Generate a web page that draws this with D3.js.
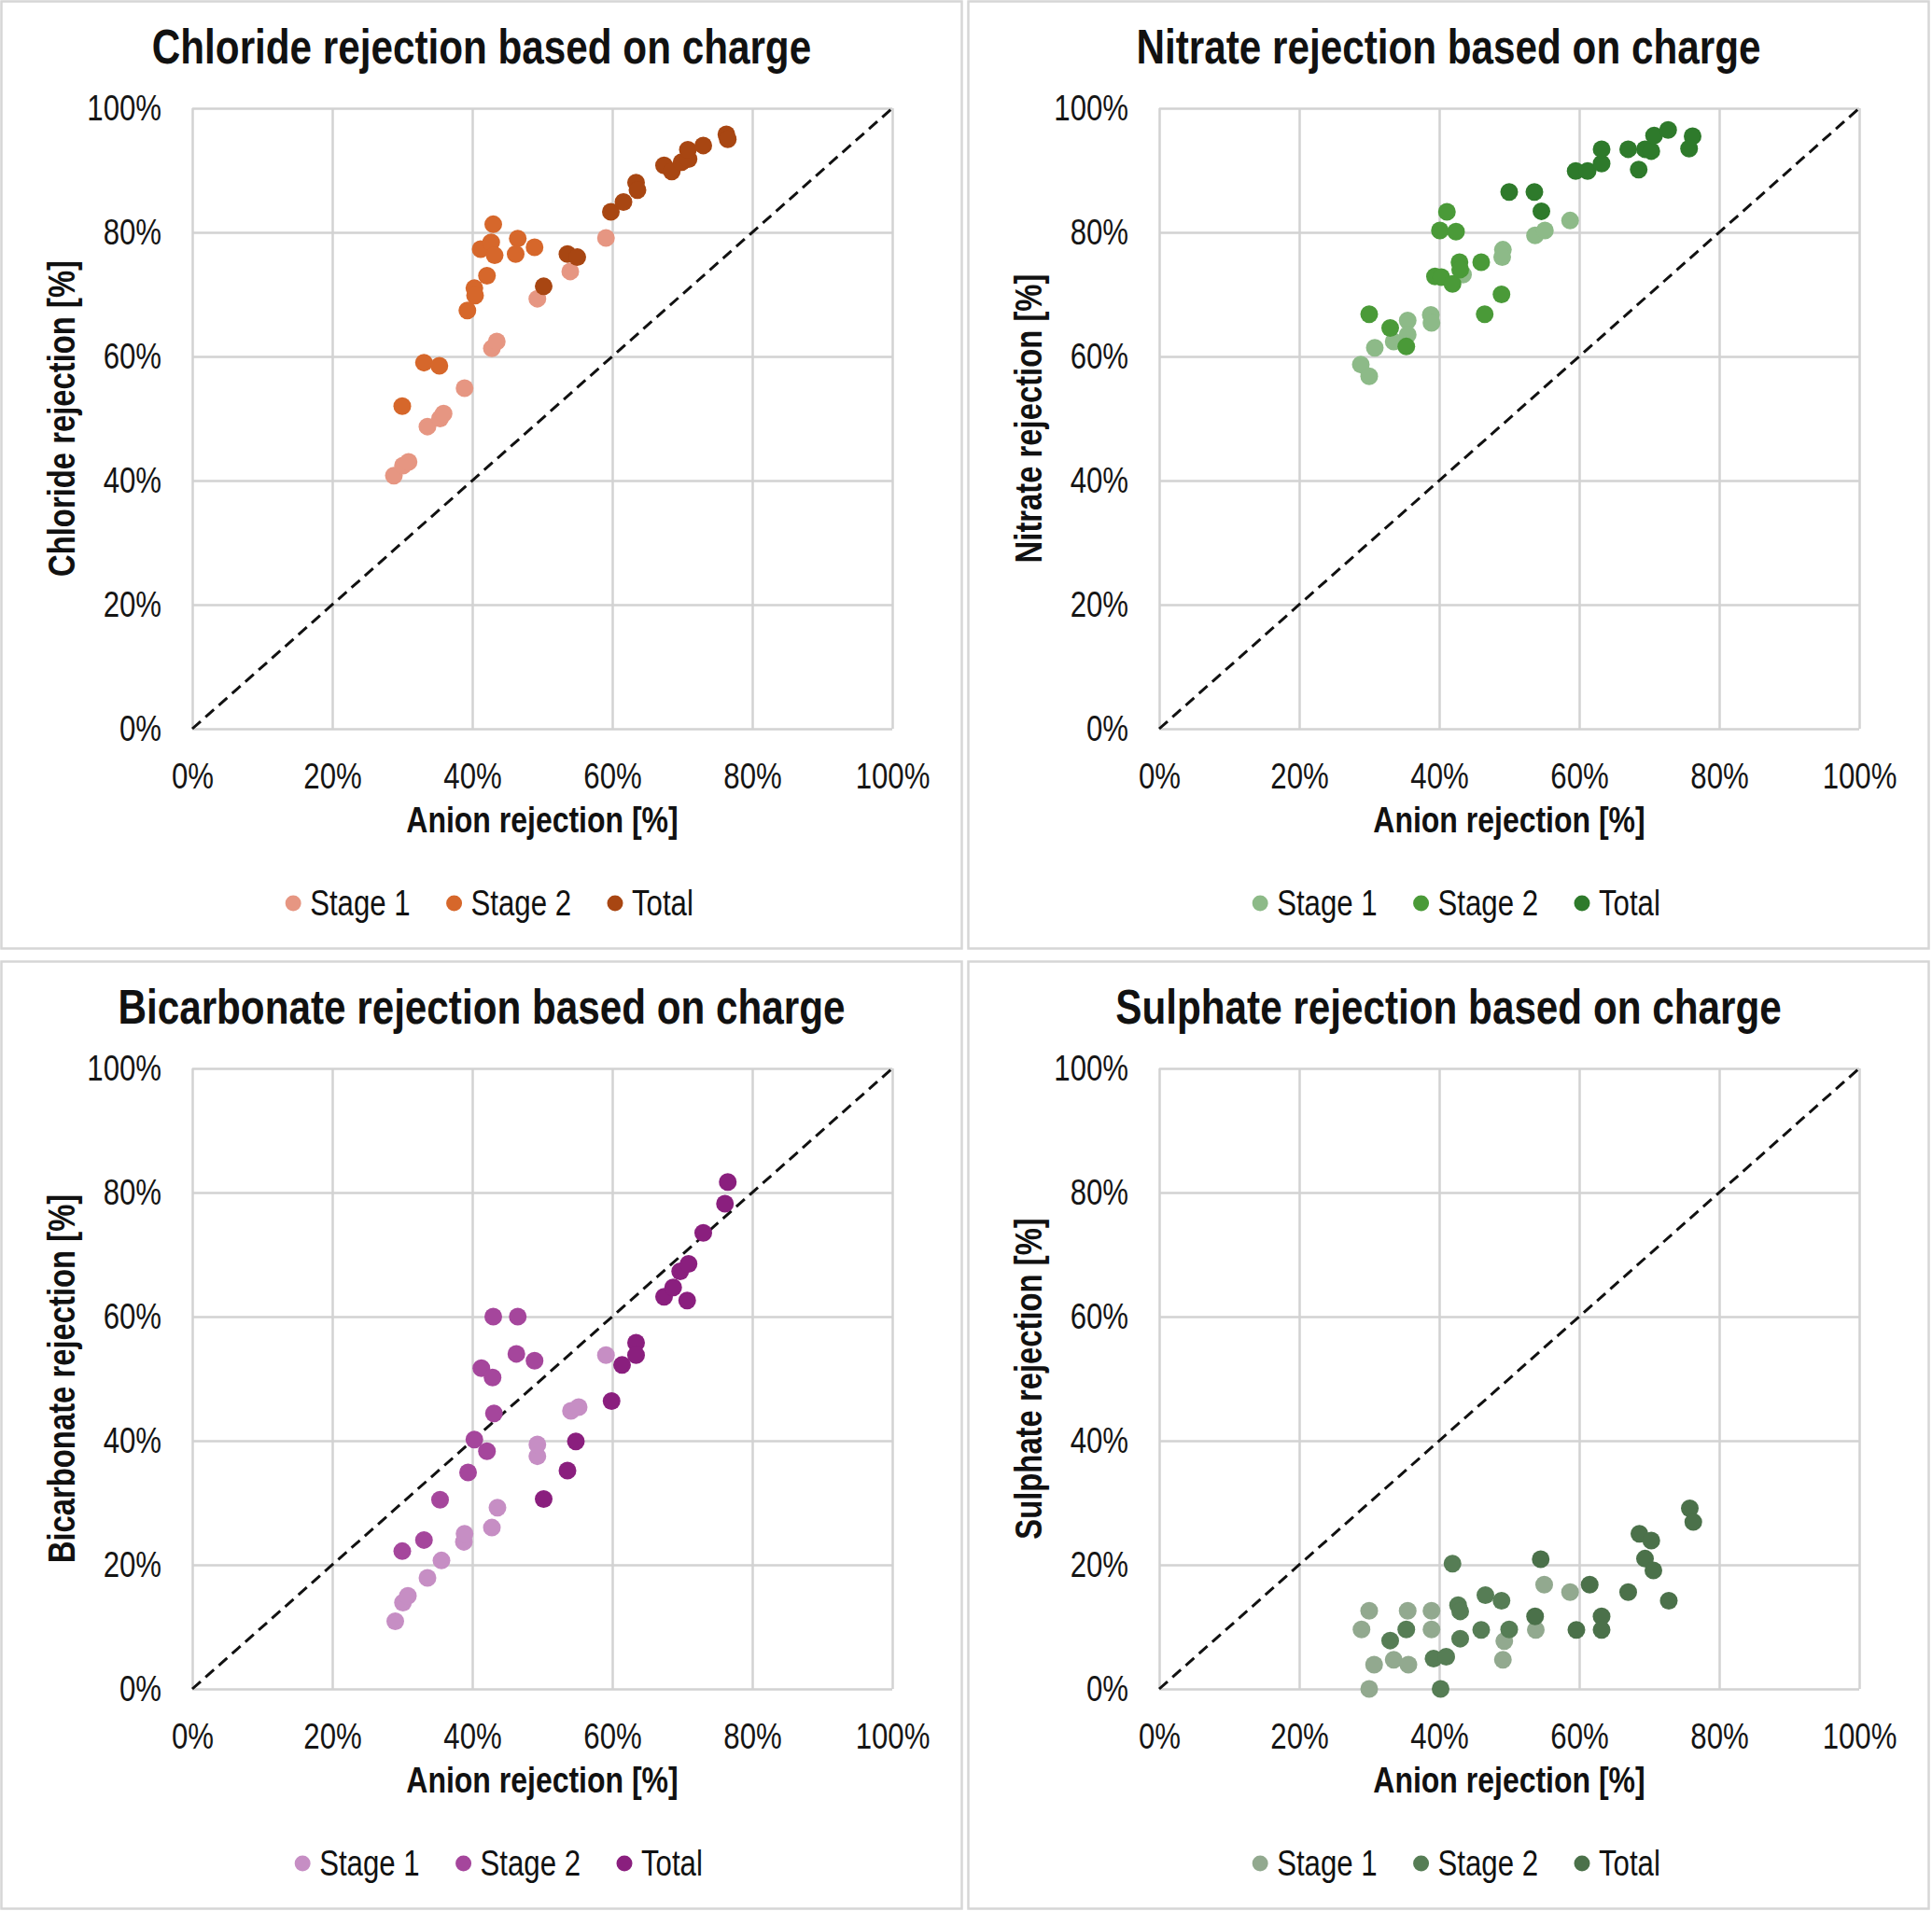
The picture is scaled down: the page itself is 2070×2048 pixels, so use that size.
<!DOCTYPE html>
<html>
<head>
<meta charset="utf-8">
<script src="https://cdn.jsdelivr.net/npm/d3@7"></script>
<style>
  body { margin: 0; background: #fff; }
  svg { display: block; }
  text { font-family: "Liberation Sans", Arial, sans-serif; fill: #111; }
</style>
</head>
<body>
<div id="chart"></div>
<script>
// values, [anion rejection %, ion rejection %]
const chlorideStage1 = [[28.8,40.8],[30.1,42.4],[30.9,43.0],[33.6,48.7],[35.4,50.0],[35.9,50.8],[38.9,54.9],[42.8,61.3],[43.5,62.4],[49.3,69.3],[54.0,73.7],[59.1,79.1]];
const chlorideStage2 = [[30.0,52.0],[33.1,59.0],[35.3,58.5],[39.3,67.4],[40.3,71.0],[40.4,69.8],[42.1,73.0],[43.0,81.3],[41.2,77.3],[42.7,78.4],[43.2,76.3],[46.5,79.0],[46.2,76.5],[48.9,77.6]];
const chlorideTotal = [[50.2,71.3],[53.6,76.5],[55.0,76.0],[59.8,83.3],[61.6,84.9],[63.4,88.0],[63.6,86.8],[67.4,90.8],[68.5,89.8],[69.9,91.3],[70.9,91.8],[70.8,93.3],[73.0,94.0],[76.3,95.8],[76.5,95.0]];

const nitrateStage1 = [[28.8,58.7],[30.0,56.8],[30.8,61.4],[33.5,62.4],[35.5,65.8],[35.5,63.5],[38.8,66.7],[38.9,65.4],[43.4,73.2],[49.1,77.2],[49.0,76.0],[53.7,79.5],[55.1,80.3],[58.7,81.9]];
const nitrateStage2 = [[30.0,66.8],[33.0,64.6],[35.3,61.6],[39.4,72.9],[40.3,72.8],[41.9,71.7],[42.9,75.2],[43.0,74.0],[46.0,75.2],[46.5,66.8],[48.9,70.0],[40.1,80.3],[42.4,80.1],[41.1,83.3]];
const nitrateTotal = [[50.0,86.5],[53.6,86.5],[54.6,83.4],[59.5,89.9],[61.2,89.9],[63.2,91.1],[63.2,93.4],[67.0,93.4],[68.5,90.1],[69.4,93.4],[70.3,93.1],[70.7,95.6],[72.7,96.5],[76.2,95.5],[75.7,93.5]];

const bicarbonateStage1 = [[29.0,10.9],[30.1,13.9],[30.8,15.0],[33.6,17.9],[35.6,20.7],[38.8,23.7],[38.9,25.0],[42.8,26.0],[43.6,29.2],[49.3,37.5],[49.3,39.4],[54.1,44.8],[55.2,45.4],[59.1,53.8]];
const bicarbonateStage2 = [[30.0,22.2],[33.1,24.0],[35.4,30.5],[39.4,34.9],[40.3,40.2],[42.1,38.3],[43.1,44.4],[41.3,51.7],[42.9,50.2],[43.0,60.0],[46.5,60.0],[46.3,54.0],[48.9,52.9]];
const bicarbonateTotal = [[50.2,30.6],[53.6,35.2],[54.8,39.9],[59.9,46.4],[61.4,52.2],[63.4,55.8],[63.4,53.8],[67.4,63.2],[68.7,64.7],[69.7,67.3],[70.9,68.5],[70.7,62.6],[73.0,73.5],[76.1,78.2],[76.5,81.7]];

const sulphateStage1 = [[30.0,0.0],[30.7,3.9],[28.9,9.6],[30.0,12.6],[33.5,4.7],[35.6,3.9],[35.5,12.6],[38.9,12.6],[38.9,9.6],[49.3,7.7],[49.1,4.7],[53.8,9.5],[55.0,16.8],[58.7,15.6]];
const sulphateStage2 = [[33.0,7.8],[35.3,9.6],[39.2,4.9],[41.0,5.2],[40.2,0.0],[41.9,20.2],[42.7,13.5],[43.0,12.5],[43.0,8.1],[46.0,9.5],[46.6,15.1],[48.9,14.2],[50.0,9.6]];
const sulphateTotal = [[53.7,11.7],[54.5,20.9],[59.6,9.5],[61.5,16.8],[63.2,11.7],[63.2,9.5],[67.0,15.6],[68.6,25.0],[70.3,23.9],[69.4,21.0],[70.6,19.1],[72.8,14.2],[75.8,29.1],[76.3,26.9]];

const seriesNames = ['Stage 1', 'Stage 2', 'Total'];
const tickValues = [0, 20, 40, 60, 80, 100];
const xTitle = 'Anion rejection [%]';

const panels = [
  { title: 'Chloride rejection based on charge', yTitle: 'Chloride rejection [%]',
    series: [chlorideStage1, chlorideStage2, chlorideTotal],
    colors: ['#e69682', '#d6672b', '#a84612'], dx: 0, dy: 0, legendShift: 0 },
  { title: 'Nitrate rejection based on charge', yTitle: 'Nitrate rejection [%]',
    series: [nitrateStage1, nitrateStage2, nitrateTotal],
    colors: ['#8dba88', '#4a9a38', '#2e7a2b'], dx: 1036, dy: 0, legendShift: 0 },
  { title: 'Bicarbonate rejection based on charge', yTitle: 'Bicarbonate rejection [%]',
    series: [bicarbonateStage1, bicarbonateStage2, bicarbonateTotal],
    colors: ['#c68ec4', '#a5469c', '#8a1f7e'], dx: 0, dy: 1029, legendShift: 10 },
  { title: 'Sulphate rejection based on charge', yTitle: 'Sulphate rejection [%]',
    series: [sulphateStage1, sulphateStage2, sulphateTotal],
    colors: ['#92a98f', '#567d55', '#4b714a'], dx: 1036, dy: 1029, legendShift: 0 }
];

const W = 2070, H = 2048;
const margin = { top: 116, left: 206 };
const plotW = 750, plotH = 665;
const squeeze = 0.82; // no narrow font installed, so squeeze Liberation Sans

// squeeze text horizontally, returns the new width
function narrow(sel) {
  let w = 0;
  sel.each(function () {
    const n = this.getComputedTextLength() * squeeze;
    d3.select(this).attr('textLength', n).attr('lengthAdjust', 'spacingAndGlyphs');
    w = n;
  });
  return w;
}

const svg = d3.select('#chart').append('svg')
  .attr('width', W)
  .attr('height', H);

svg.append('rect').attr('width', W).attr('height', H).attr('fill', '#fff');

const x = d3.scaleLinear().domain([0, 100]).range([0, plotW]);
const y = d3.scaleLinear().domain([0, 100]).range([plotH, 0]);
const fmt = d => d + '%';

panels.forEach(p => {
  const panel = svg.append('g').attr('transform', `translate(${p.dx}, ${p.dy})`);

  // frame round the chart
  panel.append('rect')
    .attr('x', 1.5).attr('y', 1.5)
    .attr('width', 1029).attr('height', 1015)
    .attr('fill', '#fff')
    .attr('stroke', '#d6d6d6')
    .attr('stroke-width', 2.5);

  panel.append('text')
    .attr('x', 516).attr('y', 68)
    .attr('text-anchor', 'middle')
    .style('font-size', '51.5px')
    .style('font-weight', 'bold')
    .text(p.title)
    .call(narrow);

  const g = panel.append('g')
    .attr('transform', `translate(${margin.left}, ${margin.top})`);

  // grid + tick labels
  g.append('g')
    .attr('class', 'y-axis')
    .call(d3.axisLeft(y).tickValues(tickValues).tickFormat(fmt).tickSize(-plotW).tickPadding(33));

  g.append('g')
    .attr('class', 'x-axis')
    .attr('transform', `translate(0, ${plotH})`)
    .call(d3.axisBottom(x).tickValues(tickValues).tickFormat(fmt).tickSize(-plotH).tickPadding(37));

  g.selectAll('.domain').remove();
  g.selectAll('.tick line')
    .style('stroke', '#d2d2d2')
    .style('stroke-width', '2.5px');
  g.selectAll('.tick text')
    .attr('font-family', null)
    .attr('font-size', null)
    .style('font-size', '38px')
    .style('fill', '#151515')
    .call(narrow);

  // 1:1 line
  g.append('line')
    .attr('x1', x(0)).attr('y1', y(0))
    .attr('x2', x(100)).attr('y2', y(100))
    .style('stroke', '#111')
    .style('stroke-width', '3px')
    .style('stroke-dasharray', '12 7');

  p.series.forEach((data, i) => {
    g.append('g')
      .selectAll('circle')
      .data(data)
      .join('circle')
      .attr('cx', d => x(d[0]))
      .attr('cy', d => y(d[1]))
      .attr('r', 9.5)
      .attr('fill', p.colors[i]);
  });

  g.append('text')
    .attr('x', plotW / 2).attr('y', plotH + 111)
    .attr('text-anchor', 'middle')
    .style('font-size', '39px')
    .style('font-weight', 'bold')
    .text(xTitle)
    .call(narrow);

  panel.append('text')
    .attr('transform', `translate(80, ${margin.top + plotH / 2}) rotate(-90)`)
    .attr('text-anchor', 'middle')
    .style('font-size', '40px')
    .style('font-weight', 'bold')
    .text(p.yTitle)
    .call(narrow);

  // legend, centred under the chart
  const legend = panel.append('g');
  let cx = 0;
  seriesNames.forEach((name, i) => {
    const item = legend.append('g').attr('transform', `translate(${cx}, 0)`);
    item.append('circle').attr('cx', 9).attr('cy', 0).attr('r', 8.5).attr('fill', p.colors[i]);
    const t = item.append('text')
      .attr('x', 27).attr('y', 13)
      .style('font-size', '38px')
      .text(name);
    cx += 27 + narrow(t) + 38;
  });
  const legendW = cx - 38;
  legend.attr('transform', `translate(${524 + p.legendShift - legendW / 2}, 968)`);
});
</script>
</body>
</html>
